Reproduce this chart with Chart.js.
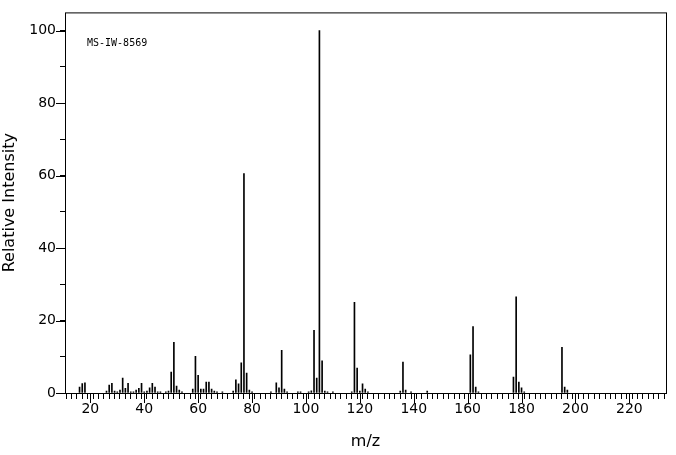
<!DOCTYPE html>
<html lang="en">
<head>
<meta charset="UTF-8">
<title>MS-IW-8569</title>
<script src="https://cdn.jsdelivr.net/npm/chart.js"></script>
<style>
    body { margin: 0; background: #fff; }
    #wrap { width: 676px; height: 455px; }
</style>
</head>
<body>
<div id="wrap"><canvas id="spec"></canvas></div>
<script>
    // peaks (m/z, relative intensity)
    const mz = [16, 17, 18, 26, 27, 28, 29, 30, 31, 32, 33, 34, 35, 36, 37, 38, 39, 40, 41, 42, 43, 44, 45, 46, 48, 49,
        50, 51, 52, 53, 54, 58, 59, 60, 61, 62, 63, 64, 65, 66, 67, 69, 73, 74, 75, 76, 77, 78, 79, 80,
        87, 89, 90, 91, 92, 93, 97, 98, 101, 102, 103, 104, 105, 106, 107, 108, 110, 117, 118, 119, 120, 121, 122, 123,
        135, 136, 137, 139, 145, 161, 162, 163, 164, 177, 178, 179, 180, 181, 195, 196, 197];
    const intensity = [1.6, 2.6, 2.8, 0.5, 2.2, 2.7, 0.5, 0.3, 0.8, 4.1, 1.3, 2.7, 0.3, 0.3, 0.8, 1.3, 2.7, 0.3, 0.5, 1.4, 2.7, 1.6, 0.3, 0.3, 0.3, 0.5,
        5.8, 14.0, 1.9, 0.8, 0.3, 1.1, 10.1, 4.9, 1.1, 1.1, 3.0, 3.0, 1.1, 0.5, 0.3, 0.3, 0.5, 3.6, 2.5, 8.3, 60.5, 5.5, 0.8, 0.3,
        0.3, 2.8, 1.4, 11.8, 1.1, 0.3, 0.3, 0.3, 0.3, 0.6, 17.3, 4.1, 100, 8.9, 0.5, 0.3, 0.3, 0.3, 25.0, 6.9, 0.5, 2.5, 1.1, 0.3,
        0.5, 8.5, 0.8, 0.3, 0.5, 10.5, 18.3, 1.6, 0.3, 4.4, 26.5, 3.0, 1.4, 0.3, 12.6, 1.6, 0.8];
    const xMin = 10.6, xMax = 233.6;
    const yMin = 0, yMax = 105;
    const sampleId = 'MS-IW-8569';

    const points = mz.map((m, i) => ({ x: m, y: intensity[i] }));

    // frame, long major ticks and the sample label
    const framePlugin = {
        id: 'frame',
        afterDraw(chart) {
            const ctx = chart.ctx, a = chart.chartArea;
            const xs = chart.scales.x, ys = chart.scales.y;
            ctx.save();
            ctx.strokeStyle = '#000';
            ctx.lineWidth = 1;
            ctx.strokeRect(a.left + 0.5, a.top + 0.5, a.right - a.left, a.bottom - a.top);
            ctx.beginPath();
            for (let v = 20; v <= 220; v += 20) {
                const px = Math.round(xs.getPixelForValue(v)) + 0.5;
                ctx.moveTo(px, a.bottom);
                ctx.lineTo(px, a.bottom + 10);
            }
            for (let v = 0; v <= 100; v += 20) {
                const py = Math.round(ys.getPixelForValue(v)) + 0.5;
                ctx.moveTo(a.left, py);
                ctx.lineTo(a.left - 9, py);
            }
            ctx.stroke();
            ctx.fillStyle = '#000';
            ctx.font = '10px "DejaVu Sans Mono", monospace';
            ctx.textBaseline = 'middle';
            ctx.fillText(sampleId, a.left + 22, a.top + 31);
            ctx.restore();
        }
    };

    new Chart(document.getElementById('spec').getContext('2d'), {
        type: 'bar',
        data: {
            datasets: [{
                data: points,
                backgroundColor: '#000',
                barThickness: 1,
                borderWidth: 0
            }]
        },
        options: {
            responsive: true,
            maintainAspectRatio: false,
            animation: false,
            layout: { padding: { top: 3, right: 10, left: 0, bottom: 0 } },
            plugins: { legend: { display: false }, tooltip: { enabled: false } },
            scales: {
                x: {
                    type: 'linear',
                    min: xMin,
                    max: xMax,
                    offset: false,
                    afterFit(s) { s.height = 62; },
                    afterBuildTicks(s) {
                        const t = [];
                        for (let v = 12; v <= 232; v += 2) t.push({ value: v });
                        s.ticks = t;
                    },
                    ticks: {
                        autoSkip: false,
                        maxRotation: 0,
                        color: '#000',
                        font: { family: 'DejaVu Sans', size: 14 },
                        padding: 2,
                        callback: v => (v % 20 === 0 ? v : '')
                    },
                    grid: { drawOnChartArea: false, tickLength: 6, color: '#000' },
                    border: { display: false },
                    title: {
                        display: true,
                        text: 'm/z',
                        color: '#000',
                        font: { family: 'DejaVu Sans', size: 16 },
                        padding: { top: 6 }
                    }
                },
                y: {
                    min: yMin,
                    max: yMax,
                    afterFit(s) { s.width = 65; },
                    afterBuildTicks(s) {
                        const t = [];
                        for (let v = 0; v <= 100; v += 10) t.push({ value: v });
                        s.ticks = t;
                    },
                    ticks: {
                        color: '#000',
                        font: { family: 'DejaVu Sans', size: 14 },
                        padding: 4,
                        callback: v => (v % 20 === 0 ? v : '')
                    },
                    grid: { drawOnChartArea: false, tickLength: 5, color: '#000' },
                    border: { display: false },
                    title: {
                        display: true,
                        text: 'Relative Intensity',
                        color: '#000',
                        font: { family: 'DejaVu Sans', size: 16 },
                        padding: { top: 0, bottom: 4 }
                    }
                }
            }
        },
        plugins: [framePlugin]
    });
</script>
</body>
</html>
